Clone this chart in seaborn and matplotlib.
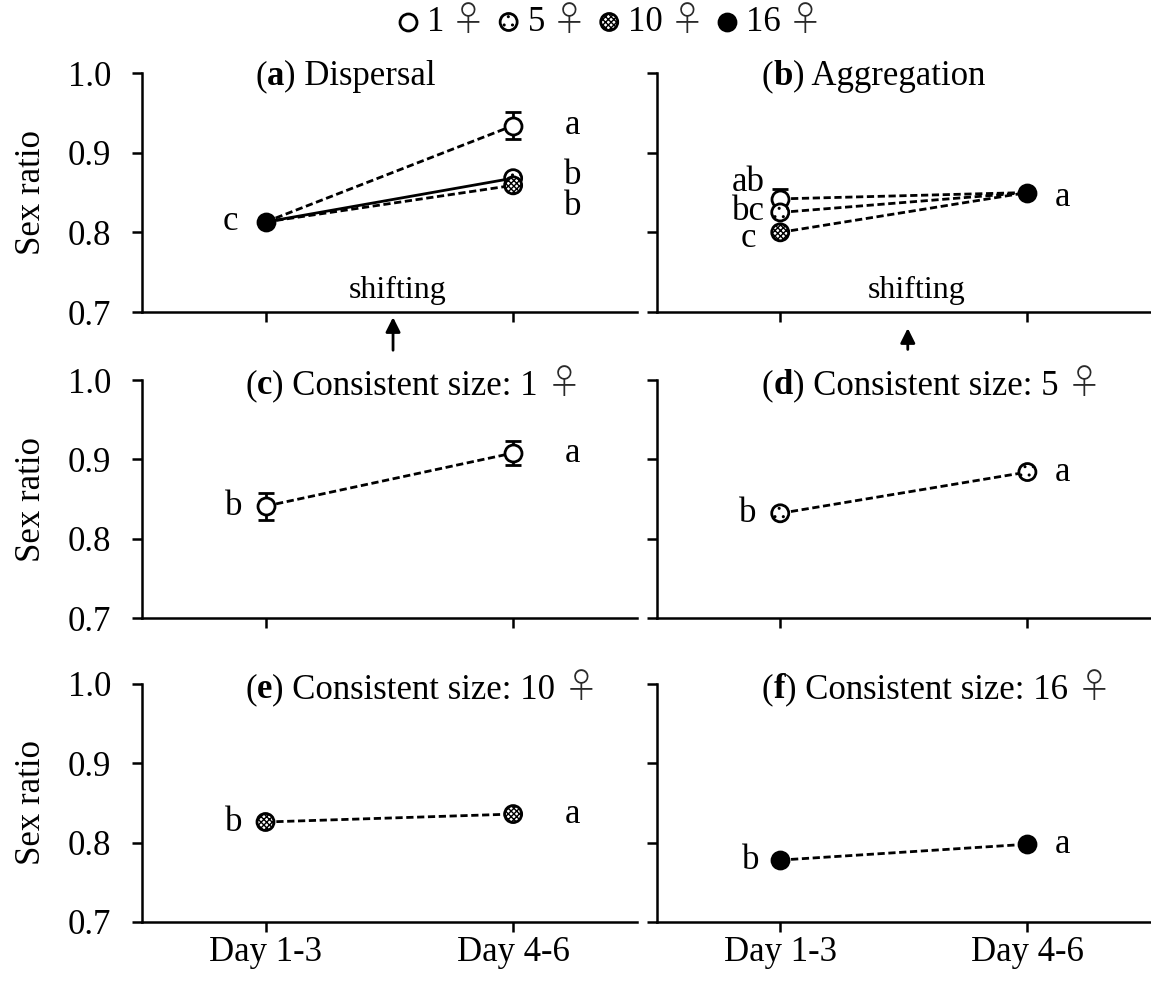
import matplotlib
matplotlib.use("Agg")
import matplotlib.pyplot as plt
from matplotlib.offsetbox import TextArea, HPacker, AnnotationBbox
import seaborn as sns

# ---------------------------------------------------------------- data
days = ["Day 1-3", "Day 4-6"]
group_sizes = ["1", "5", "10", "16"]
FEMALE = "♀"

# (a) Dispersal: 16 females on days 1-3, then split into 1, 5 and 10 females
disp_start = 0.813
disp_end = [0.934, 0.868, 0.859]
disp_end_err = [0.017, None, None]
disp_start_letter = "c"
disp_end_letters = ["a", "b", "b"]

# (b) Aggregation: 1, 5 and 10 females on days 1-3, then pooled to 16 females
aggr_start = [0.842, 0.825, 0.800]
aggr_start_err = [0.012, None, None]
aggr_end = 0.850
aggr_start_letters = ["ab", "bc", "c"]
aggr_end_letter = "a"

# (c)-(f) Consistent group size
cons_1 = [0.841, 0.908]
cons_1_err = [0.017, 0.015]
cons_5 = [0.832, 0.884]
cons_5_err = [None, None]
cons_10 = [0.826, 0.836]
cons_10_err = [None, None]
cons_16 = [0.778, 0.798]
cons_16_err = [None, None]
cons_letters = ["b", "a"]

y_ticks = [0.7, 0.8, 0.9, 1.0]
y_tick_labels = ["0.7", "0.8", "0.9", "1.0"]

# ---------------------------------------------------------------- style
sns.set_style("ticks")
FS = 25
MS = 150
LW = 2
DASH = (0, (2.6, 1.3))
FAMILY = ["Liberation Serif", "DejaVu Sans"]
SYMBOL_FAMILY = ["Noto Sans CJK JP", "DejaVu Sans"]
SYMBOL_PROPS = dict(fontsize=FS, family=SYMBOL_FAMILY,
                    fontweight="light", color="#2a2a2a")
plt.rcParams["font.family"] = FAMILY
plt.rcParams.update({
    "text.color": "black",
    "axes.labelcolor": "black",
    "axes.edgecolor": "black",
    "xtick.color": "black",
    "ytick.color": "black",
    "hatch.linewidth": 1.0,
})

MARKER_STYLE = {
    "1": dict(face="white", hatch=None),
    "5": dict(face="white", hatch=".."),
    "10": dict(face="white", hatch="xxxxxx"),
    "16": dict(face="black", hatch=None),
}

fig = plt.figure(figsize=(11.51, 9.83), dpi=100)
COLS = [(0.1231, 0.4303), (0.5705, 0.4295)]
ROWS = [(0.6826, 0.2431), (0.3713, 0.2421), (0.0621, 0.2421)]
axes = [[fig.add_axes([x, b, w, h]) for x, w in COLS] for b, h in ROWS]


def style_axes(ax, left, bottom):
    ax.set_xlim(-0.5, 1.5)
    ax.set_ylim(0.7, 1.0)
    for side in ("top", "right"):
        ax.spines[side].set_visible(False)
    for side in ("left", "bottom"):
        ax.spines[side].set_linewidth(1.8)
        ax.spines[side].set_color("black")
    ax.set_yticks(y_ticks)
    ax.set_xticks([0, 1])
    ax.tick_params(axis="both", direction="out", length=7, width=1.8,
                   labelsize=FS, color="black", labelcolor="black")
    ax.tick_params(axis="y", pad=15)
    ax.tick_params(axis="x", pad=3)
    if left:
        ax.set_yticklabels(y_tick_labels)
        ax.set_ylabel("Sex ratio", fontsize=FS, labelpad=14)
    else:
        ax.set_yticklabels([])
        ax.set_ylabel("")
    if bottom:
        ax.set_xticklabels(days)
    else:
        ax.set_xticklabels([])
    ax.set_xlabel("")


def draw_line(ax, y0, y1, ls=DASH):
    sns.lineplot(x=[0, 1], y=[y0, y1], ax=ax, color="black", lw=LW,
                 linestyle=ls, zorder=2, legend=False)


def draw_point(ax, x, y, size, err=None):
    if err:
        ax.errorbar([x], [y], yerr=[err], fmt="none", ecolor="black",
                    elinewidth=LW, capsize=5.5, capthick=LW, zorder=3)
    st = MARKER_STYLE[size]
    sns.scatterplot(x=[x], y=[y], ax=ax, s=MS, color=st["face"],
                    edgecolor="black", linewidth=LW, hatch=st["hatch"],
                    zorder=4, legend=False)


def letter(ax, x, y, s):
    ax.text(x, y, s, ha="center", va="center", fontsize=FS)


def panel_title(ax, tag, text, x, y, symbol=False):
    parts = [TextArea("(", textprops=dict(fontsize=FS, family=FAMILY)),
             TextArea(tag, textprops=dict(fontsize=FS, family=FAMILY,
                                          fontweight="bold")),
             TextArea(") " + text, textprops=dict(fontsize=FS, family=FAMILY))]
    if symbol:
        parts.append(TextArea(FEMALE, textprops=SYMBOL_PROPS))
    box = HPacker(children=parts, sep=0, pad=0, align="baseline")
    ab = AnnotationBbox(box, (x, y), xycoords="axes fraction",
                        box_alignment=(0, 0.5), frameon=False, pad=0)
    ax.add_artist(ab)


def shifting(ax, x_text, x_arrow, tip, base):
    ax.text(x_text, 0.717, "shifting", ha="center", va="baseline",
            fontsize=FS - 2)
    ax.annotate("", xy=(x_arrow, tip), xytext=(x_arrow, base),
                arrowprops=dict(arrowstyle="-|>", color="black", lw=LW,
                                mutation_scale=22, shrinkA=0, shrinkB=0),
                annotation_clip=False)


# ---------------------------------------------------------------- (a)
ax = axes[0][0]
line_styles_a = [DASH, "-", DASH]
for y1, ls in zip(disp_end, line_styles_a):
    draw_line(ax, disp_start, y1, ls)
for n, y1, e in zip(group_sizes[:3], disp_end, disp_end_err):
    draw_point(ax, 1, y1, n, e)
draw_point(ax, 0, disp_start, group_sizes[3])
letter(ax, -0.14, disp_start, disp_start_letter)
for s, yl in zip(disp_end_letters, [0.934, 0.871, 0.832]):
    letter(ax, 1.24, yl, s)
panel_title(ax, "a", "Dispersal", 0.229, 0.985)
shifting(ax, 0.535, 0.515, 0.6935, 0.652)

# ---------------------------------------------------------------- (b)
ax = axes[0][1]
for y0 in aggr_start:
    draw_line(ax, y0, aggr_end)
for n, y0, e in zip(group_sizes[:3], aggr_start, aggr_start_err):
    draw_point(ax, 0, y0, n, e)
draw_point(ax, 1, aggr_end, group_sizes[3])
for s, yl in zip(aggr_start_letters, [0.862, 0.826, 0.792]):
    letter(ax, -0.13, yl, s)
letter(ax, 1.14, aggr_end - 0.006, aggr_end_letter)
panel_title(ax, "b", "Aggregation", 0.213, 0.985)
shifting(ax, 0.553, 0.516, 0.6797, 0.653)

# ---------------------------------------------------------------- (c)-(f)
consistent = [
    (axes[1][0], "c", cons_1, cons_1_err, group_sizes[0], -0.13, 1.24, 0.209),
    (axes[1][1], "d", cons_5, cons_5_err, group_sizes[1], -0.13, 1.14, 0.213),
    (axes[2][0], "e", cons_10, cons_10_err, group_sizes[2], -0.13, 1.24, 0.209),
    (axes[2][1], "f", cons_16, cons_16_err, group_sizes[3], -0.12, 1.14, 0.213),
]
for ax, tag, vals, errs, n, xl, xr, tx in consistent:
    draw_line(ax, vals[0], vals[1])
    for x, y, e in zip([0, 1], vals, errs):
        draw_point(ax, x, y, n, e)
    letter(ax, xl, vals[0], cons_letters[0])
    letter(ax, xr, vals[1], cons_letters[1])
    panel_title(ax, tag, "Consistent size: " + n + " ", tx, 0.983, symbol=True)

for r in range(3):
    for c in range(2):
        style_axes(axes[r][c], left=(c == 0), bottom=(r == 2))

# ---------------------------------------------------------------- legend
handles = []
for n in group_sizes:
    st = MARKER_STYLE[n]
    handles.append(axes[0][0].scatter([], [], s=MS, color=st["face"],
                                      edgecolor="black", linewidth=LW,
                                      hatch=st["hatch"]))
leg = fig.legend(handles, group_sizes, loc="center",
                 bbox_to_anchor=(0.509, 0.977), ncol=4, frameon=False,
                 fontsize=FS, handletextpad=0.05, columnspacing=1.35,
                 handlelength=1.0, borderaxespad=0, scatterpoints=1)

# female sign after each legend label, drawn in a font with a full-size glyph
fig.canvas.draw()
to_fig = fig.transFigure.inverted()
for txt in leg.get_texts():
    ext = txt.get_window_extent()
    base = txt.get_transform().transform(txt.get_position())
    fx, fy = to_fig.transform((ext.x1 + 0.18 * FS * 100 / 72, base[1]))
    fig.text(fx, fy, FEMALE, ha="left", va="baseline", **SYMBOL_PROPS)

fig.savefig("out.png", dpi=100)
